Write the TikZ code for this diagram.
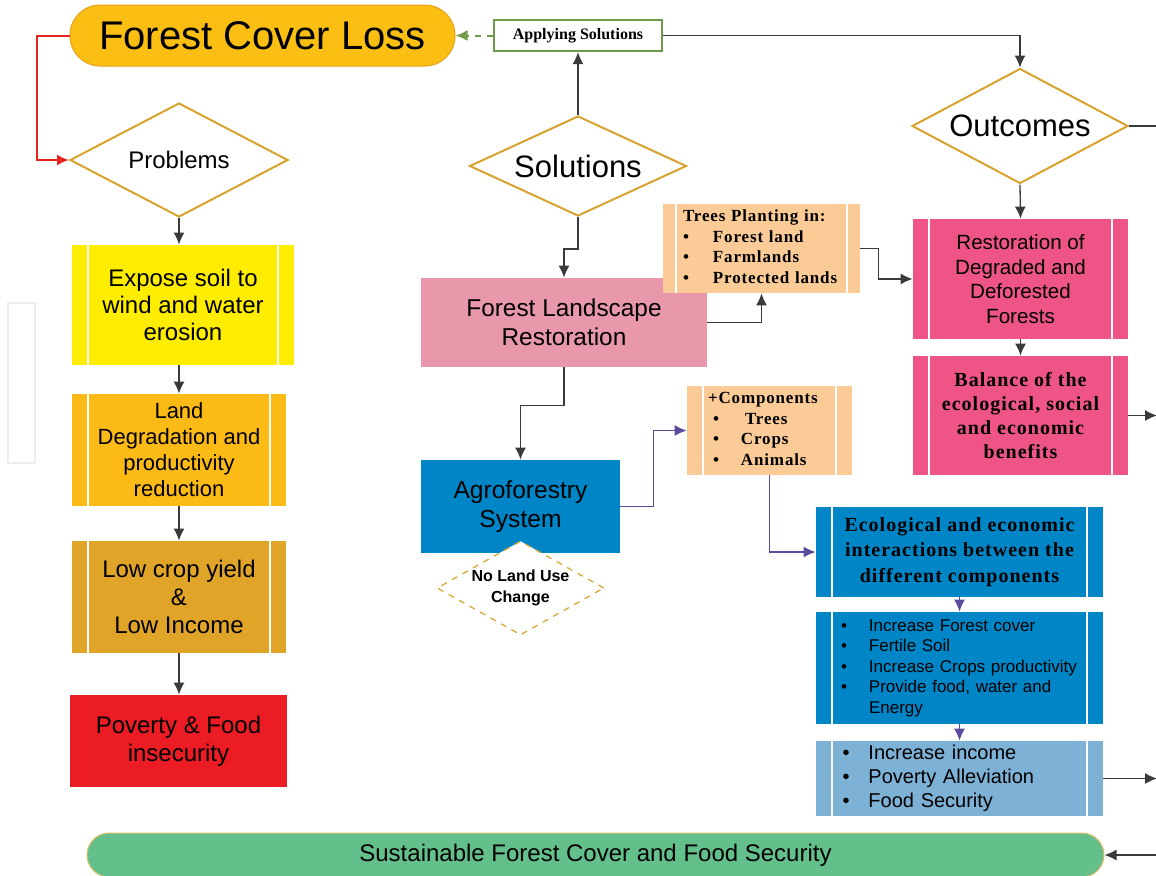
\documentclass[tikz,border=0pt]{standalone}
\usepackage{fontspec}
\setmainfont{Liberation Sans}
\newfontfamily\plainserif{Liberation Serif}
\newfontfamily\spacedserif[LetterSpace=5]{Liberation Serif}
\usetikzlibrary{shapes.geometric}
\usetikzlibrary{arrows.meta}

\definecolor{lossgold}{HTML}{FBBF14}
\definecolor{lossedge}{HTML}{E5A21B}
\definecolor{gold}{HTML}{D9A22E}
\definecolor{applygreen}{HTML}{6F9A4A}
\definecolor{alarmred}{HTML}{E52421}
\definecolor{linegray}{HTML}{3A3A3A}
\definecolor{plum}{HTML}{5C4A9C}
\definecolor{soilyellow}{HTML}{FFED00}
\definecolor{degorange}{HTML}{FBBA16}
\definecolor{cropgold}{HTML}{E0A428}
\definecolor{povred}{HTML}{EC1C24}
\definecolor{flrpink}{HTML}{E898AA}
\definecolor{peach}{HTML}{FBCB97}
\definecolor{rosered}{HTML}{EE5586}
\definecolor{agroblue}{HTML}{0086C7}
\definecolor{incomeblue}{HTML}{7EB1D6}
\definecolor{sustgreen}{HTML}{63C08A}

\tikzset{
    procbox/.style={rectangle, path picture={
        \draw[white, line width=0.7pt]
            ([xshift=#1]path picture bounding box.north west) -- ([xshift=#1]path picture bounding box.south west)
            ([xshift=-#1]path picture bounding box.north east) -- ([xshift=-#1]path picture bounding box.south east);
    }},
    procbox/.default=8pt,
    choice/.style={diamond, draw=gold, line width=1pt, fill=white},
    link/.style={draw=linegray, line width=0.65pt, -{Latex[length=6pt,width=5.5pt]}},
    plink/.style={link, draw=plum}
}

\begin{document}
\begin{tikzpicture}[x=0.5pt, y=-0.5pt, every node/.style={inner sep=0pt, align=center}]
    \useasboundingbox (0,0) rectangle (1156,875);
    \draw[black!7, line width=0.8pt] (8,303) rectangle (35,463);

    \node[rounded corners=15pt, fill=lossgold, draw=lossedge, line width=0.5pt, minimum width=192.5pt, minimum height=30.5pt,
        font=\fontsize{20}{24}\selectfont] (loss) at (262.5,35.5) {Forest Cover Loss};
    \node[draw=applygreen, line width=1.2pt, fill=white, minimum width=84pt, minimum height=15.5pt,
        font=\plainserif\bfseries\fontsize{8}{9}\selectfont] (apply) at (578,35.5) {Applying Solutions};

    \node[choice, aspect=1.9, minimum width=109pt, minimum height=57pt, font=\fontsize{12}{14}\selectfont] (problems) at (179,160) {Problems};
    \node[procbox, fill=soilyellow, minimum width=111pt, minimum height=60pt, font=\fontsize{12}{13.5}\selectfont] (expose) at (183,305)
        {Expose soil to\\wind and water\\erosion};
    \node[procbox, fill=degorange, minimum width=107pt, minimum height=56pt, font=\fontsize{11}{13}\selectfont] (landdeg) at (179,450)
        {Land\\Degradation and\\productivity\\reduction};
    \node[procbox, fill=cropgold, minimum width=107pt, minimum height=56pt, font=\fontsize{12}{14}\selectfont] (lowcrop) at (179,597)
        {Low crop yield\\\&\\Low Income};
    \node[fill=povred, minimum width=108.5pt, minimum height=46pt, font=\fontsize{12}{14}\selectfont] (poverty) at (178.5,741)
        {Poverty \& Food\\insecurity};

    \node[choice, aspect=2.2, minimum width=108.5pt, minimum height=50pt, font=\fontsize{15.5}{18}\selectfont] (solutions) at (578,166) {Solutions};
    \node[fill=flrpink, minimum width=143pt, minimum height=44.5pt, font=\fontsize{12.2}{14.5}\selectfont] (flr) at (564,322.5)
        {Forest Landscape\\Restoration};
    \node[procbox=6.5pt, fill=peach, minimum width=98.5pt, minimum height=44.5pt, text width=78.5pt, align=left,
        font=\spacedserif\bfseries\fontsize{8.5}{10.25}\selectfont] (trees) at (761.5,248.5)
        {\begin{tabular}{@{}p{15pt}@{}l@{}}
            \multicolumn{2}{@{}l@{}}{Trees Planting in:}\\
            \textbullet & Forest land\\
            \textbullet & Farmlands\\
            \textbullet & Protected lands
        \end{tabular}};

    \node[choice, aspect=1.9, minimum width=108pt, minimum height=57.5pt, font=\fontsize{15.5}{18}\selectfont] (outcomes) at (1020,126) {Outcomes};
    \node[procbox, fill=rosered, minimum width=107.5pt, minimum height=60pt, font=\fontsize{10.3}{12.3}\selectfont] (restor) at (1020.5,279)
        {Restoration of\\Degraded and\\Deforested\\Forests};
    \node[procbox, fill=rosered, minimum width=107.5pt, minimum height=59.5pt, font=\spacedserif\bfseries\fontsize{10}{12}\selectfont] (balance) at (1020.5,415.5)
        {Balance of the\\ecological, social\\and economic\\benefits};

    \node[fill=agroblue, minimum width=99.5pt, minimum height=46.5pt, font=\fontsize{12.3}{14.5}\selectfont] (agro) at (520.5,506.5)
        {Agroforestry\\System};
    \node[choice, dashed, line width=0.6pt, aspect=1.8, minimum width=83.5pt, minimum height=47pt, font=\bfseries\fontsize{8}{10.5}\selectfont] (nochange) at (520.5,588)
        {No Land Use\\Change};
    \node[procbox, fill=peach, minimum width=82.5pt, minimum height=44.5pt, text width=61.5pt, align=left,
        font=\spacedserif\bfseries\fontsize{8.5}{10.25}\selectfont] (comp) at (769.5,430.5)
        {\begin{tabular}{@{\hspace{2.5pt}}p{14pt}@{}l@{}}
            \multicolumn{2}{@{}l@{}}{+Components}\\
            \textbullet & \hspace{2pt}Trees\\
            \textbullet & Crops\\
            \textbullet & Animals
        \end{tabular}};

    \node[procbox, fill=agroblue, minimum width=143.5pt, minimum height=45pt, font=\spacedserif\bfseries\fontsize{10}{12.75}\selectfont] (ecol) at (959.5,552)
        {Ecological and economic\\interactions between the\\different components};
    \node[procbox, fill=agroblue, minimum width=143.5pt, minimum height=56pt, text width=118.5pt, align=left,
        font=\fontsize{8.5}{10.25}\selectfont] (benefits) at (959.5,668)
        {\begin{tabular}{@{}p{14pt}@{}l@{}}
            \textbullet & Increase Forest cover\\
            \textbullet & Fertile Soil\\
            \textbullet & Increase Crops productivity\\
            \textbullet & Provide food, water and\\
                        & Energy
        \end{tabular}};
    \node[procbox, fill=incomeblue, minimum width=143.5pt, minimum height=37.5pt, text width=117pt, align=left,
        font=\fontsize{10}{12}\selectfont] (income) at (959.5,778.5)
        {\begin{tabular}{@{}p{13pt}@{}l@{}}
            \textbullet & Increase income\\
            \textbullet & Poverty Alleviation\\
            \textbullet & Food Security
        \end{tabular}};

    \node[rounded corners=11pt, fill=sustgreen, draw=gold!70, line width=0.5pt, minimum width=508.5pt, minimum height=22pt,
        font=\fontsize{12}{14}\selectfont] (goal) at (595.5,855) {Sustainable Forest Cover and Food Security};

    \coordinate (outR) at (1160,126);
    \coordinate (balR) at (1157,415.5);
    \coordinate (incR) at (1157,778.5);
    \coordinate (goalR) at (1160,855);

    \draw[link, draw=applygreen, line width=1pt, dashed] (apply.west) -- (loss.east);
    \draw[link] (apply.east) -| (outcomes.north);
    \draw[link, draw=alarmred, line width=1pt] (loss.west) -- ++(-33,0) |- (problems.west);
    \draw[link] (problems.south) -- (problems.south |- expose.north);
    \draw[link] (expose.south -| problems.south) -- (landdeg.north -| problems.south);
    \draw[link] (landdeg.south) -- (lowcrop.north);
    \draw[link] (lowcrop.south) -- (lowcrop.south |- poverty.north);

    \draw[link] (solutions.north) -- (apply.south);
    \draw[link] (solutions.south) -- ++(0,32) -| (flr.north);
    \draw[link] (flr.east) -| (trees.south);
    \draw[link] (trees.east) -- ++(18,0) |- (restor.west);
    \draw[link] (outcomes.south) -- (restor.north);
    \draw[link] (restor.south) -- (balance.north);
    \draw[link, -] (outcomes.east) -- (outR);
    \draw[link] (balance.east) -- (balR);

    \draw[link] (flr.south) -- ++(0,38) -| (agro.north);
    \draw[plink] (agro.east) -- ++(33,0) |- (comp.west);
    \draw[plink] (comp.south) |- (ecol.west);
    \draw[plink] (ecol.south) -- (benefits.north);
    \draw[plink] (benefits.south) -- (income.north);
    \draw[link] (income.east) -- (incR);
    \draw[link] (goalR) -- (goal.east);
\end{tikzpicture}
\end{document}
